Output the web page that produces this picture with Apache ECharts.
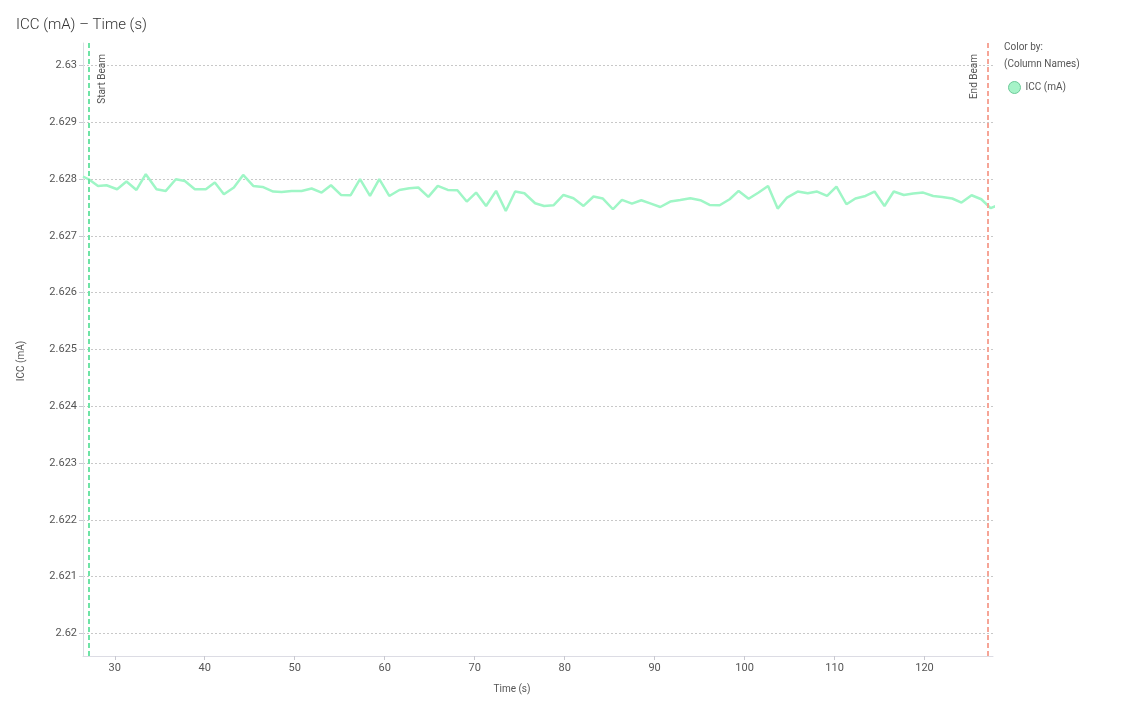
<!DOCTYPE html>
<html>
<head>
<meta charset="utf-8">
<script src="https://cdn.jsdelivr.net/npm/echarts@6/dist/echarts.min.js"></script>
<style>
html,body{margin:0;padding:0;background:#fff;}
#chart{width:1126px;height:710px;}
</style>
</head>
<body>
<div id="chart"></div>
<script>
const times = [26.47,27.22,28.14,29.08,30.26,31.30,32.41,33.45,34.64,35.67,36.79,37.79,38.90,40.12,41.12,42.13,43.24,44.27,45.39,46.43,47.61,48.54,49.66,50.77,51.88,52.99,54.03,55.14,56.22,57.26,58.37,59.40,60.51,61.63,62.74,63.74,64.85,65.90,67.01,68.08,69.12,70.16,71.27,72.38,73.46,74.50,75.53,76.72,77.72,78.76,79.87,80.98,82.10,83.21,84.25,85.37,86.37,87.48,88.52,89.59,90.63,91.74,92.85,93.97,95.08,96.11,97.23,98.34,99.34,100.45,101.56,102.61,103.68,104.72,105.90,107.02,108.06,109.17,110.21,111.32,112.32,113.44,114.44,115.55,116.58,117.70,118.74,119.85,120.96,121.97,123.08,124.11,125.23,126.31,127.34,128.34];
const icc = [2.628048,2.627988,2.627882,2.627894,2.627824,2.627959,2.627811,2.628088,2.627824,2.627794,2.628000,2.627970,2.627824,2.627824,2.627942,2.627735,2.627854,2.628076,2.627882,2.627864,2.627783,2.627776,2.627794,2.627794,2.627836,2.627765,2.627894,2.627723,2.627718,2.628000,2.627705,2.628000,2.627705,2.627811,2.627841,2.627854,2.627688,2.627882,2.627811,2.627806,2.627607,2.627765,2.627529,2.627794,2.627441,2.627783,2.627753,2.627577,2.627529,2.627541,2.627723,2.627665,2.627529,2.627695,2.627660,2.627471,2.627635,2.627571,2.627630,2.627571,2.627511,2.627607,2.627635,2.627665,2.627630,2.627547,2.627541,2.627647,2.627794,2.627656,2.627765,2.627882,2.627483,2.627677,2.627783,2.627753,2.627783,2.627705,2.627871,2.627559,2.627660,2.627705,2.627783,2.627529,2.627783,2.627723,2.627748,2.627765,2.627705,2.627688,2.627660,2.627589,2.627718,2.627647,2.627489,2.627559];
const beamNames = ['Start Beam', 'End Beam'];
const beamTimes = [27.15, 127.02];
const beamColors = ['#6fe3a6', '#f6a597'];
const xRange = [26.47, 127.61];
const yRange = [2.6196, 2.6304];

const chart = echarts.init(document.getElementById('chart'), null, {renderer: 'canvas'});
const FONT = 'Roboto, "Noto Sans", sans-serif';
const option = {
  animation: false,
  textStyle: {fontFamily: FONT},
  title: {
    text: 'ICC (mA) \u2013 Time (s)',
    left: 11, top: 13,
    textStyle: {fontSize: 15, fontWeight: 300, color: '#333', fontFamily: FONT}
  },
  graphic: [
    {type: 'text', left: 1004, top: 42, style: {text: 'Color by:', fontSize: 10, fill: '#555', fontFamily: FONT}},
    {type: 'text', left: 1004, top: 59, style: {text: '(Column Names)', fontSize: 10, fill: '#555', fontFamily: FONT}}
  ],
  legend: {
    left: 1003, top: 76,
    icon: 'circle', itemWidth: 12, itemHeight: 12, itemGap: 4,
    textStyle: {fontSize: 10, color: '#555', fontFamily: FONT},
    data: [{name: 'ICC (mA)', itemStyle: {color: '#a6f3c8', borderColor: '#6cc998', borderWidth: 1}}]
  },
  grid: {left: 83, right: 133, top: 43, bottom: 54, containLabel: false},
  xAxis: {
    type: 'value', min: xRange[0], max: xRange[1],
    splitNumber: 10, minInterval: 10, maxInterval: 10,
    name: 'Time (s)', nameLocation: 'middle', nameGap: 28,
    nameTextStyle: {fontSize: 10, color: '#555', padding: [0, 52, 0, 0]},
    axisLine: {lineStyle: {color: '#dcdce4', width: 1}},
    axisTick: {show: true, length: 4, lineStyle: {color: '#c8c8d0'}},
    axisLabel: {fontSize: 11, color: '#555', margin: 7, showMinLabel: false, showMaxLabel: false},
    splitLine: {show: false}
  },
  yAxis: {
    type: 'value', min: yRange[0], max: yRange[1],
    splitNumber: 10, minInterval: 0.001, maxInterval: 0.001,
    name: 'ICC (mA)', nameLocation: 'middle', nameGap: 57, nameRotate: 90,
    nameTextStyle: {fontSize: 10, color: '#555', padding: [0, 23, 0, 0]},
    axisLine: {show: true, lineStyle: {color: '#dcdce4', width: 1}},
    axisTick: {show: true, length: 4, lineStyle: {color: '#c8c8d0'}},
    axisLabel: {fontSize: 11, color: '#555', margin: 6, showMinLabel: false, showMaxLabel: false},
    splitLine: {show: true, showMinLine: false, showMaxLine: false, lineStyle: {color: '#c8c8c8', type: [2, 2], width: 1}}
  },
  series: [{
    name: 'ICC (mA)',
    type: 'line',
    data: times.map((t, i) => [t, icc[i]]),
    showSymbol: false, symbol: 'none',
    clip: true,
    lineStyle: {color: '#9ff6c6', width: 2.5},
    itemStyle: {color: '#a6f3c8'},
    markLine: {
      silent: true, symbol: 'none',
      data: beamTimes.map((t, i) => ({
        xAxis: t, name: beamNames[i],
        lineStyle: {color: beamColors[i], type: [5, 3], width: 2},
        label: {
          show: true, formatter: beamNames[i],
          position: i === 0 ? 'insideEndBottom' : 'insideEndTop',
          fontSize: 10, color: '#555', distance: 8,
          padding: [0, 3, 0, 0]
        }
      }))
    }
  }]
};
chart.setOption(option);
</script>
</body>
</html>
